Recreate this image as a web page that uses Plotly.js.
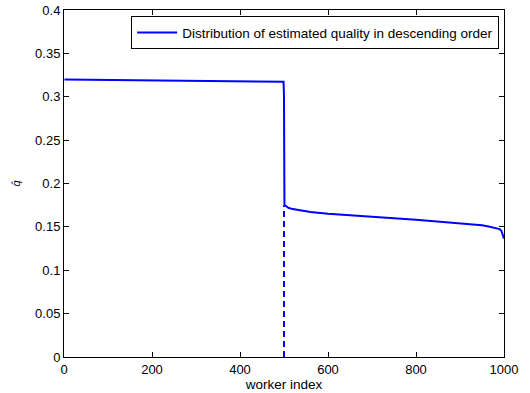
<!DOCTYPE html>
<html>
<head>
<meta charset="utf-8">
<script src="https://cdn.plot.ly/plotly-3.0.1.min.js"></script>
<style>html,body{margin:0;padding:0;background:#fff;}#chart{width:530px;height:393px;}</style>
</head>
<body>
<div id="chart"></div>
<script>
// worker index samples and estimated quality (descending)
const workerIndex = [1, 50, 100, 150, 200, 250, 300, 350, 400, 450, 495, 499, 500, 500, 500, 500.5, 501, 502, 505, 510, 520, 540, 560, 600, 650, 700, 750, 800, 850, 900, 930, 950, 965, 975, 985, 990, 994, 997, 1000];
const quality =     [0.320, 0.3197, 0.3194, 0.3191, 0.3188, 0.3185, 0.3182, 0.3179, 0.3177, 0.3175, 0.3173, 0.3172, 0.300, 0.210, 0.178, 0.181, 0.176, 0.175, 0.1735, 0.1720, 0.1705, 0.1685, 0.1672, 0.1652, 0.1632, 0.1615, 0.1600, 0.1583, 0.1563, 0.1545, 0.1530, 0.1518, 0.1505, 0.1495, 0.1483, 0.1475, 0.1455, 0.1420, 0.1365];
const dashX = [500, 500];
const dashY = [0, 0.175];
const legendLabel = 'Distribution of estimated quality in descending order';
const xTicks = [0, 200, 400, 600, 800, 1000];
const yTicks = [0, 0.05, 0.1, 0.15, 0.2, 0.25, 0.3, 0.35, 0.4];
const yTickText = ['0', '0.05', '0.1', '0.15', '0.2', '0.25', '0.3', '0.35', '0.4'];

const traces = [
  {x: dashX, y: dashY, mode: 'lines', showlegend: false,
   line: {color: '#0000ff', width: 2, dash: '6px,4px'}, hoverinfo: 'skip'},
  {x: workerIndex, y: quality, mode: 'lines', name: legendLabel,
   line: {color: '#0000ff', width: 2}}
];

const axisCommon = {
  showline: true, linecolor: '#000', linewidth: 1, mirror: 'ticks',
  ticks: 'inside', ticklen: 5, tickcolor: '#000', tickwidth: 1,
  showgrid: false, zeroline: false,
  tickfont: {family: 'Liberation Sans, Arial, sans-serif', size: 13, color: '#000'}
};

const layout = {
  width: 530, height: 393,
  margin: {l: 64, r: 26, t: 10, b: 36},
  paper_bgcolor: '#fff', plot_bgcolor: '#fff',
  font: {family: 'Liberation Sans, Arial, sans-serif', color: '#000'},
  xaxis: Object.assign({}, axisCommon, {
    range: [0, 1000], tickvals: xTicks, ticktext: xTicks.map(String),
    title: {text: 'worker index', standoff: 2, font: {size: 13.5, color: '#000'}}
  }),
  yaxis: Object.assign({}, axisCommon, {
    range: [0, 0.4], tickvals: yTicks, ticktext: yTickText,
    title: {text: '<i>q̂</i>', standoff: 12, font: {size: 11, color: '#000'}}
  }),
  legend: {
    x: 0.989, y: 0.982, xanchor: 'right', yanchor: 'top',
    bordercolor: '#000', borderwidth: 1, bgcolor: '#fff',
    font: {size: 13.5, color: '#000'}, itemwidth: 40,
    tracegroupgap: 0
  },
  showlegend: true
};

Plotly.newPlot('chart', traces, layout, {displayModeBar: false, staticPlot: true});
</script>
</body>
</html>
